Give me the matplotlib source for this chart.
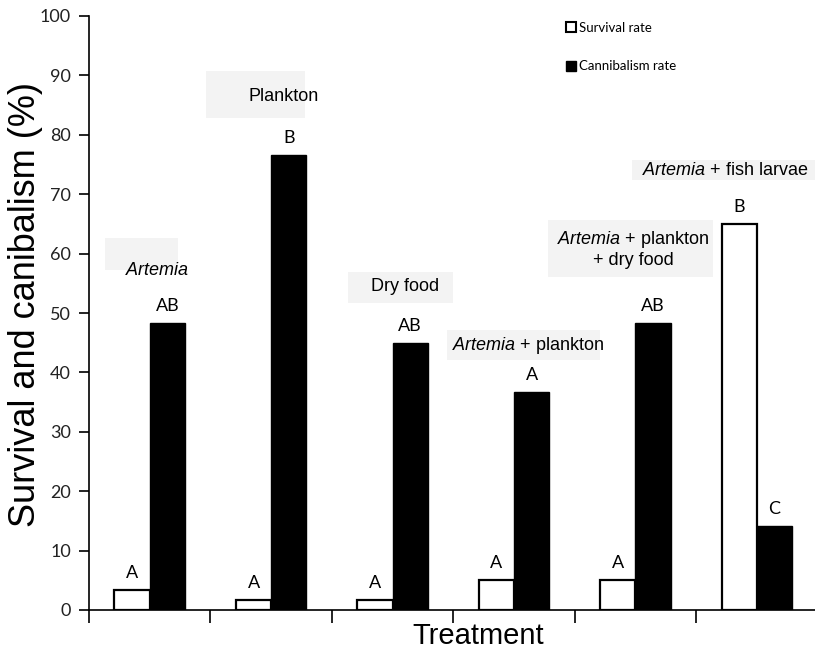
import numpy as np
import matplotlib
matplotlib.use("Agg")
import matplotlib.pyplot as plt
from matplotlib.patches import Patch, Rectangle

plt.rcParams['mathtext.fontset'] = 'custom'
plt.rcParams['mathtext.rm'] = 'Liberation Sans'
plt.rcParams['mathtext.it'] = 'Liberation Sans:italic'

# data
survival = [3.4, 1.7, 1.7, 5.1, 5.1, 65.0]
cannibalism = [48.3, 76.6, 45.0, 36.7, 48.3, 14.1]
surv_letters = ['A', 'A', 'A', 'A', 'A', 'B']
cann_letters = ['AB', 'B', 'AB', 'A', 'AB', 'C']
treatments = [r'$\mathit{Artemia}$',
              'Plankton',
              'Dry food',
              r'$\mathit{Artemia}$ + plankton',
              r'$\mathit{Artemia}$ + plankton' + '\n+ dry food',
              r'$\mathit{Artemia}$ + fish larvae']
# where each treatment name sits (x, y) and its grey box (x0, y0, w, h)
label_pos = [(0.56, 57.1), (1.60, 86.4), (2.60, 54.5), (3.62, 44.6), (4.48, 60.8), (5.24, 74.0)]
label_box = [(0.13, 57.2, 0.60, 5.4), (0.96, 82.8, 0.82, 7.9), (2.13, 51.7, 0.87, 5.2),
             (2.95, 42.1, 1.26, 5.0), (3.78, 56.1, 1.36, 9.6), (4.47, 72.4, 1.55, 3.4)]

fig = plt.figure(figsize=(8.15, 6.51), dpi=100)
ax = fig.add_axes([89/815, 41/651, 1 - 89/815, (610 - 16)/651])

x = np.arange(len(survival)) + 0.5
w = 0.29
ax.bar(x - w/2, survival, w, color='white', edgecolor='black', linewidth=1.6, zorder=3)
ax.bar(x + w/2, cannibalism, w, color='black', edgecolor='black', linewidth=1.0, zorder=3)

for i in range(len(x)):
    ax.text(x[i] - w/2, survival[i] + 2, surv_letters[i], ha='center', va='baseline',
            fontsize=13, family='Lato', zorder=4)
    ax.text(x[i] + w/2, cannibalism[i] + 2, cann_letters[i], ha='center', va='baseline',
            fontsize=13, family='Lato', zorder=4)
    bx, by, bw, bh = label_box[i]
    ax.add_patch(Rectangle((bx, by), bw, bh, facecolor='#f3f3f3', edgecolor='none',
                           zorder=1, clip_on=False))
    ax.text(label_pos[i][0], label_pos[i][1], treatments[i], ha='center', va='center',
            multialignment='center', fontsize=13, family='Liberation Sans', zorder=2)

ax.set_xlim(0, 5.98)
ax.set_ylim(0, 100)
ax.set_xticks(np.arange(0, 6))
ax.set_xticklabels([])
ax.set_yticks(np.arange(0, 101, 10))
ax.tick_params(axis='x', direction='out', length=9, width=1.2)
ax.tick_params(axis='y', direction='out', length=7, width=1.2, labelsize=13, pad=6)
for lab in ax.get_yticklabels():
    lab.set_family('Lato')
    lab.set_color('#222222')
for s in ['top', 'right']:
    ax.spines[s].set_visible(False)
for s in ['left', 'bottom']:
    ax.spines[s].set_linewidth(1.2)

ax.set_ylabel('Survival and canibalism (%)', fontsize=26, family='Liberation Sans')
ax.yaxis.set_label_coords(-0.088, 0.515)
ax.yaxis.label.set_va('center')
ax.set_xlabel('Treatment', fontsize=21, family='Liberation Sans')
ax.xaxis.set_label_coords(0.536, -0.043)
ax.xaxis.label.set_va('center')

handles = [Patch(facecolor='white', edgecolor='black', linewidth=1.5),
           Patch(facecolor='black', edgecolor='black')]
fig.legend(handles, ['Survival rate', 'Cannibalism rate'], loc='upper left',
           bbox_to_anchor=(554/815, 1 - 10/651), frameon=False,
           handlelength=0.8, handleheight=0.8, handletextpad=0.2, labelspacing=2.0,
           prop={'family': 'Lato', 'size': 9.5})

fig.savefig('out.png', dpi=100)
